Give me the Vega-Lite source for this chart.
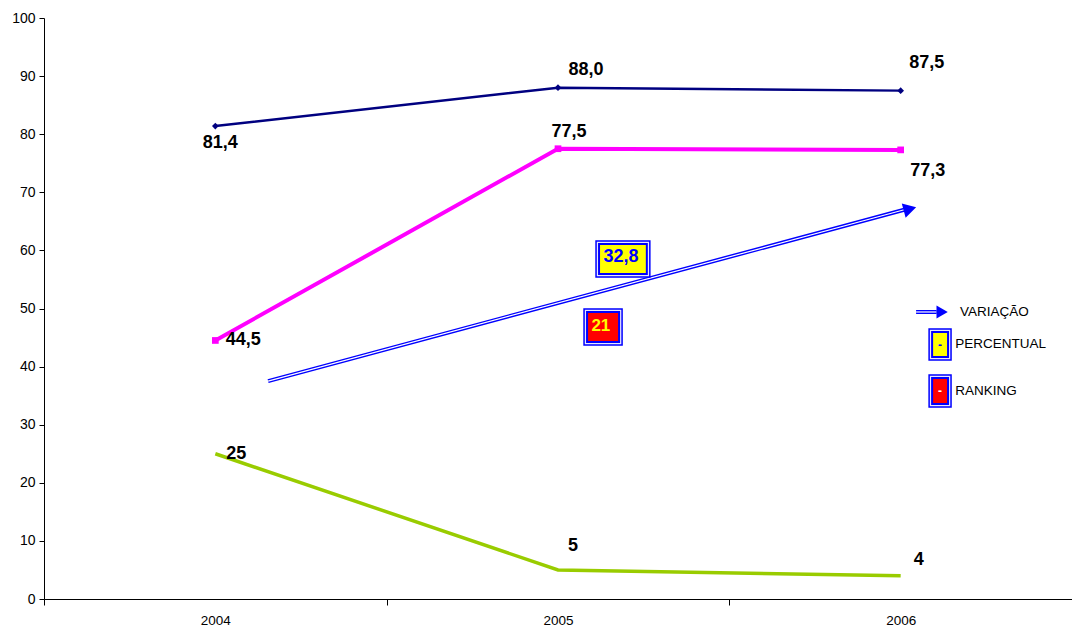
{
  "$schema": "https://vega.github.io/schema/vega-lite/v6.json",
  "width": 1028,
  "height": 581,
  "autosize": {"type": "none"},
  "padding": {"left": 44, "top": 18, "right": 0, "bottom": 28},
  "config": {"view": {"stroke": null}, "font": "Liberation Sans"},
  "datasets": {
    "series": [
      {"series": "navy", "year": "2004", "value": 81.4, "lbl": "81,4"},
      {"series": "navy", "year": "2005", "value": 88.0, "lbl": "88,0"},
      {"series": "navy", "year": "2006", "value": 87.5, "lbl": "87,5"},
      {"series": "magenta", "year": "2004", "value": 44.5, "lbl": "44,5"},
      {"series": "magenta", "year": "2005", "value": 77.5, "lbl": "77,5"},
      {"series": "magenta", "year": "2006", "value": 77.3, "lbl": "77,3"},
      {"series": "green", "year": "2004", "value": 25, "lbl": "25"},
      {"series": "green", "year": "2005", "value": 5, "lbl": "5"},
      {"series": "green", "year": "2006", "value": 4, "lbl": "4"}
    ],
    "ann": [
      {"k": "arrow", "u": 0.654, "v": 37.5},
      {"k": "arrow", "u": 2.513, "v": 67.04},
      {"k": "head", "u": 2.527, "v": 67.13},
      {"k": "larrow", "u": 2.545, "v": 49.4},
      {"k": "larrow", "u": 2.605, "v": 49.4},
      {"k": "lhead", "u": 2.621, "v": 49.4},
      {"k": "box", "kind": "percentual", "u": 1.611, "u2": 1.768, "v": 55.42, "v2": 61.62},
      {"k": "box", "kind": "ranking", "u": 1.576, "u2": 1.687, "v": 43.72, "v2": 49.91},
      {"k": "lbox", "kind": "percentual", "u": 2.583, "u2": 2.647, "v": 41.14, "v2": 46.47},
      {"k": "lbox", "kind": "ranking", "u": 2.583, "u2": 2.647, "v": 33.05, "v2": 38.55},
      {"k": "btext", "kind": "percentual", "t": "32,8", "u": 1.684, "v": 58.86},
      {"k": "btext", "kind": "ranking", "t": "21", "u": 1.625, "v": 46.99},
      {"k": "ldash", "kind": "percentual", "t": "-", "u": 2.615, "v": 43.8},
      {"k": "ldash", "kind": "ranking", "t": "-", "u": 2.615, "v": 35.8},
      {"k": "ltext", "t": "VARIAÇÃO", "u": 2.673, "v": 49.4},
      {"k": "ltext", "t": "PERCENTUAL", "u": 2.659, "v": 43.9},
      {"k": "ltext", "t": "RANKING", "u": 2.659, "v": 35.8}
    ]
  },
  "resolve": {"scale": {"x": "independent", "y": "independent"}},
  "layer": [
    {
      "data": {"name": "series"},
      "encoding": {
        "x": {
          "field": "year", "type": "ordinal",
          "scale": {"type": "band", "paddingInner": 0, "paddingOuter": 0},
          "axis": {"title": null, "labelAngle": 0, "tickBand": "extent", "tickSize": 6, "labelPadding": 8, "labelFontSize": 13.5, "labelColor": "#000", "domainColor": "#000", "tickColor": "#000", "grid": false}
        },
        "y": {
          "field": "value", "type": "quantitative",
          "scale": {"domain": [0, 100], "nice": false},
          "axis": {"title": null, "values": [0, 10, 20, 30, 40, 50, 60, 70, 80, 90, 100], "tickSize": 5, "labelPadding": 4, "labelFontSize": 14, "labelColor": "#000", "domainColor": "#000", "tickColor": "#000", "grid": false}
        }
      },
      "layer": [
        {"transform": [{"filter": "datum.series == 'navy'"}], "mark": {"type": "line", "color": "#000080", "strokeWidth": 2.5}},
        {"transform": [{"filter": "datum.series == 'navy'"}], "mark": {"type": "point", "shape": "diamond", "filled": true, "color": "#000080", "size": 45, "opacity": 1}},
        {"transform": [{"filter": "datum.series == 'magenta'"}], "mark": {"type": "line", "color": "#FF00FF", "strokeWidth": 4}},
        {"transform": [{"filter": "datum.series == 'magenta'"}], "mark": {"type": "point", "shape": "square", "filled": true, "color": "#FF00FF", "size": 45, "opacity": 1}},
        {"transform": [{"filter": "datum.series == 'green'"}], "mark": {"type": "line", "color": "#99CC00", "strokeWidth": 3.5}},
        {
          "encoding": {"text": {"field": "lbl"}},
          "layer": [
            {"transform": [{"filter": "datum.lbl == '81,4'"}], "mark": {"type": "text", "fontSize": 18, "fontWeight": "bold", "color": "#000", "dx": 5, "dy": 17}},
            {"transform": [{"filter": "datum.lbl == '88,0'"}], "mark": {"type": "text", "fontSize": 18, "fontWeight": "bold", "color": "#000", "dx": 28, "dy": -18}},
            {"transform": [{"filter": "datum.lbl == '87,5'"}], "mark": {"type": "text", "fontSize": 18, "fontWeight": "bold", "color": "#000", "dx": 26, "dy": -28}},
            {"transform": [{"filter": "datum.lbl == '44,5'"}], "mark": {"type": "text", "fontSize": 18, "fontWeight": "bold", "color": "#000", "dx": 28, "dy": 0}},
            {"transform": [{"filter": "datum.lbl == '77,5'"}], "mark": {"type": "text", "fontSize": 18, "fontWeight": "bold", "color": "#000", "dx": 11, "dy": -17}},
            {"transform": [{"filter": "datum.lbl == '77,3'"}], "mark": {"type": "text", "fontSize": 18, "fontWeight": "bold", "color": "#000", "dx": 27, "dy": 21}},
            {"transform": [{"filter": "datum.lbl == '25'"}], "mark": {"type": "text", "fontSize": 18, "fontWeight": "bold", "color": "#000", "dx": 21, "dy": 0}},
            {"transform": [{"filter": "datum.lbl == '5'"}], "mark": {"type": "text", "fontSize": 18, "fontWeight": "bold", "color": "#000", "dx": 15, "dy": -24}},
            {"transform": [{"filter": "datum.lbl == '4'"}], "mark": {"type": "text", "fontSize": 18, "fontWeight": "bold", "color": "#000", "dx": 18, "dy": -16}}
          ]
        }
      ]
    },
    {
      "data": {"name": "ann"},
      "encoding": {
        "x": {"field": "u", "type": "quantitative", "scale": {"domain": [0, 3], "nice": false, "zero": false}, "axis": null},
        "y": {"field": "v", "type": "quantitative", "scale": {"domain": [0, 100], "nice": false}, "axis": null}
      },
      "layer": [
        {"transform": [{"filter": "datum.k == 'arrow'"}], "mark": {"type": "line", "color": "#0000FF", "strokeWidth": 4}},
        {"transform": [{"filter": "datum.k == 'arrow'"}], "mark": {"type": "line", "color": "#FFFFFF", "strokeWidth": 1.2}},
        {"transform": [{"filter": "datum.k == 'head'"}], "mark": {"type": "point", "shape": "triangle-right", "filled": true, "color": "#0000FF", "size": 220, "angle": -15, "opacity": 1}},
        {"transform": [{"filter": "datum.k == 'larrow'"}], "mark": {"type": "line", "color": "#0000FF", "strokeWidth": 4}},
        {"transform": [{"filter": "datum.k == 'larrow'"}], "mark": {"type": "line", "color": "#FFFFFF", "strokeWidth": 1.2}},
        {"transform": [{"filter": "datum.k == 'lhead'"}], "mark": {"type": "point", "shape": "triangle-right", "filled": true, "color": "#0000FF", "size": 170, "opacity": 1}},
        {
          "transform": [{"filter": "datum.k == 'box' || datum.k == 'lbox'"}],
          "encoding": {
            "x2": {"field": "u2"},
            "y2": {"field": "v2"}
          },
          "layer": [
            {"mark": {"type": "rect", "fill": "#E8E8FF", "stroke": "#0000FF", "strokeWidth": 1.5}},
            {
              "mark": {"type": "rect", "stroke": "#0000FF", "strokeWidth": 2, "xOffset": 3, "x2Offset": -3, "yOffset": -3, "y2Offset": 3},
              "encoding": {"fill": {"field": "kind", "type": "nominal", "scale": {"domain": ["percentual", "ranking"], "range": ["#FFFF00", "#FF0000"]}, "legend": null}}
            }
          ]
        },
        {"transform": [{"filter": "datum.k == 'btext' && datum.kind == 'percentual'"}], "mark": {"type": "text", "fontSize": 18, "fontWeight": "bold", "color": "#0000FF"}, "encoding": {"text": {"field": "t"}}},
        {"transform": [{"filter": "datum.k == 'btext' && datum.kind == 'ranking'"}], "mark": {"type": "text", "fontSize": 17, "fontWeight": "bold", "color": "#FFFF00"}, "encoding": {"text": {"field": "t"}}},
        {"transform": [{"filter": "datum.k == 'ldash' && datum.kind == 'percentual'"}], "mark": {"type": "text", "fontSize": 12, "fontWeight": "bold", "color": "#0000FF"}, "encoding": {"text": {"field": "t"}}},
        {"transform": [{"filter": "datum.k == 'ldash' && datum.kind == 'ranking'"}], "mark": {"type": "text", "fontSize": 12, "fontWeight": "bold", "color": "#FFFFFF"}, "encoding": {"text": {"field": "t"}}},
        {"transform": [{"filter": "datum.k == 'ltext'"}], "mark": {"type": "text", "fontSize": 13.5, "align": "left", "color": "#000"}, "encoding": {"text": {"field": "t"}}}
      ]
    }
  ]
}
